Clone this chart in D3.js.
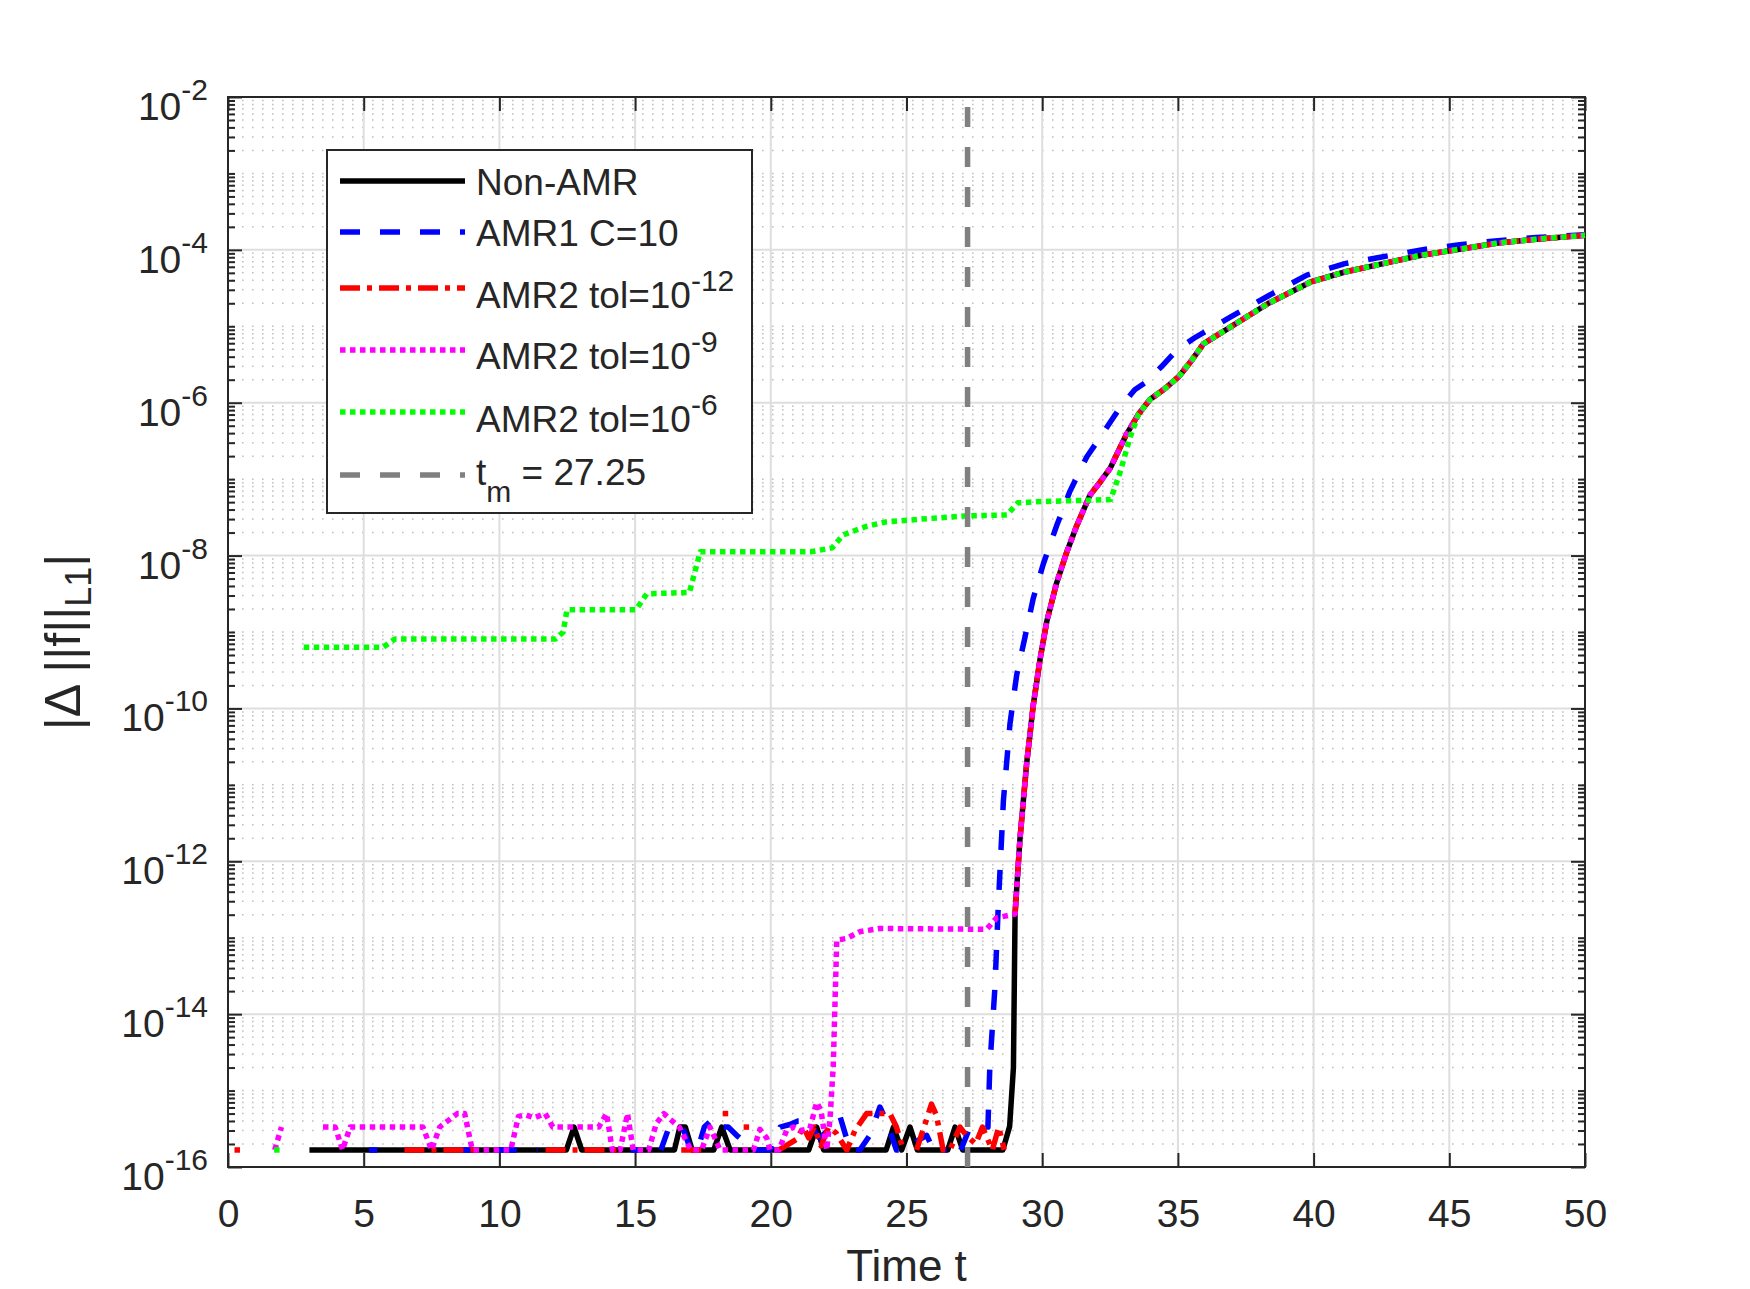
<!DOCTYPE html>
<html>
<head>
<meta charset="utf-8">
<script src="https://cdn.jsdelivr.net/npm/d3@7/dist/d3.min.js"></script>
<style>
  body { margin: 0; background: #fff; }
  svg { display: block; }
  text { font-family: "Liberation Sans", Arial, Helvetica, sans-serif; fill: #262626; }
</style>
</head>
<body>
<div id="chart"></div>
<script>
// ---- data (time t, |delta ||f||_L1|), null = exact zero (not drawn on log axis)
const xTickValues = [0, 5, 10, 15, 20, 25, 30, 35, 40, 45, 50];
const yTickExponents = [-16, -14, -12, -10, -8, -6, -4, -2];
const tMerge = 27.25;

// common part of Non-AMR / AMR2 curves once the error grows
const sharedTail = [
  [29.0, 2.04e-13], [29.18, 1.95e-12], [29.43, 1.95e-11], [29.67, 1.10e-10], [29.92, 4.37e-10],
  [30.17, 1.38e-9], [30.53, 4.37e-9], [30.9, 1.10e-8], [31.27, 2.45e-8], [31.76, 6.17e-8],
  [32.13, 9.12e-8], [32.5, 1.38e-7], [33.11, 3.89e-7], [33.55, 7.08e-7], [33.97, 1.10e-6],
  [34.54, 1.55e-6], [35.03, 2.19e-6], [35.52, 3.63e-6], [35.94, 5.89e-6], [36.93, 9.77e-6],
  [38.34, 2.00e-5], [39.89, 3.80e-5], [41.15, 5.13e-5], [42.56, 6.61e-5], [43.97, 8.51e-5],
  [45.38, 1.02e-4], [46.79, 1.23e-4], [48.2, 1.38e-4], [50, 1.55e-4]
];

const nonAmrHead = [
  [3.0, 1.67e-16], [12.47, 1.67e-16], [12.75, 3.33e-16], [13.03, 1.67e-16], [16.45, 1.67e-16],
  [16.65, 3.33e-16], [16.85, 3.33e-16], [17.1, 1.67e-16], [17.9, 1.67e-16], [18.19, 3.33e-16],
  [18.5, 1.67e-16], [21.4, 1.67e-16], [21.69, 3.33e-16], [21.95, 1.67e-16], [24.25, 1.67e-16],
  [24.52, 3.33e-16], [24.82, 1.67e-16], [25.13, 3.33e-16], [25.4, 1.67e-16], [26.52, 1.67e-16],
  [26.79, 3.33e-16], [27.07, 1.67e-16], [28.55, 1.67e-16], [28.8, 3.4e-16], [28.94, 2.0e-15]
];

const amr1 = [
  [5.2, 1.67e-16], [5.5, 1.67e-16], [5.75, null],
  [8.6, 1.67e-16], [9.1, 1.67e-16], [9.3, null],
  [9.9, 1.67e-16], [11.4, 1.67e-16], [11.6, null],
  [14.85, 1.67e-16], [15.15, 1.67e-16], [15.4, null],
  [15.95, 1.67e-16], [16.25, 3.33e-16], [16.75, 3.33e-16], [17.05, 1.67e-16], [17.3, 1.67e-16],
  [17.55, 3.33e-16], [17.88, 4.3e-16], [18.1, 3.33e-16], [18.43, 3.33e-16], [18.74, 2.6e-16],
  [19.05, 2.1e-16], [19.35, 1.67e-16], [19.97, 1.67e-16], [20.34, 3.33e-16], [20.7, 3.6e-16],
  [21.0, 4.0e-16], [21.3, 4.0e-16], [21.5, 3.33e-16], [21.8, 2.4e-16], [22.1, 3.0e-16],
  [22.55, 4.6e-16], [22.92, 1.67e-16], [23.28, 1.67e-16], [23.65, 2.6e-16], [24.02, 6.1e-16],
  [24.26, 4.0e-16], [24.63, 1.67e-16], [25.0, 1.67e-16], [25.4, 2.2e-16], [25.74, 2.6e-16],
  [26.0, 1.67e-16], [26.48, 1.67e-16], [26.7, null],
  [27.0, 1.67e-16], [27.34, 3.33e-16], [27.7, 3.33e-16], [28.0, 3.33e-16], [28.07, 2.04e-15],
  [28.26, 2.29e-14], [28.38, 2.51e-13], [28.57, 6.17e-12], [28.81, 6.17e-11], [29.06, 2.75e-10],
  [29.37, 8.71e-10], [29.67, 2.75e-9], [30.04, 7.76e-9], [30.53, 2.45e-8], [31.02, 6.92e-8],
  [31.64, 1.95e-7], [32.2, 3.80e-7], [32.87, 8.71e-7], [33.41, 1.48e-6], [33.83, 1.86e-6],
  [34.39, 2.95e-6], [34.96, 4.90e-6], [35.66, 7.24e-6], [36.93, 1.32e-5], [38.34, 2.51e-5],
  [39.75, 4.68e-5], [41.15, 6.61e-5], [42.56, 8.13e-5], [43.97, 1.0e-4], [45.38, 1.17e-4],
  [46.79, 1.32e-4], [48.2, 1.45e-4], [50, 1.58e-4]
];

const amr2Tol12Head = [
  [0.34, 1.67e-16], [0.5, null],
  [6.5, 1.67e-16], [9.2, 1.67e-16], [9.4, null],
  [11.7, 1.67e-16], [14.4, 1.67e-16], [14.6, null],
  [16.7, 1.67e-16], [17.5, 1.67e-16], [17.7, null],
  [18.33, 5.0e-16], [18.5, null],
  [19.1, 3.33e-16], [19.3, null],
  [20.3, 1.67e-16], [20.95, 2.3e-16], [21.2, 3.33e-16], [21.4, 2.4e-16], [21.6, 3.33e-16],
  [21.85, 1.9e-16], [22.13, 3.33e-16], [22.4, 2.8e-16], [22.8, 1.67e-16], [23.1, 3.0e-16],
  [23.53, 5.0e-16], [24.02, 5.0e-16], [24.39, 5.0e-16], [24.63, 3.33e-16], [24.88, 1.67e-16],
  [25.1, null],
  [25.37, 1.67e-16], [25.74, 4.2e-16], [25.92, 6.67e-16], [26.1, 4.8e-16], [26.35, 1.67e-16],
  [26.6, 1.67e-16], [26.97, 3.33e-16], [27.2, 2.6e-16], [27.55, 2.0e-16], [27.8, 3.33e-16],
  [28.16, 1.67e-16], [28.4, 3.33e-16], [28.6, 1.67e-16], [28.8, null]
];

const amr2Tol9Head = [
  [1.72, 1.67e-16], [1.97, 3.33e-16], [2.2, null],
  [3.5, 3.33e-16], [3.95, 3.33e-16], [4.22, 1.67e-16], [4.5, 3.33e-16], [7.18, 3.33e-16],
  [7.5, 1.67e-16], [7.8, 3.33e-16], [8.45, 5.0e-16], [8.72, 5.0e-16], [9.0, 1.67e-16],
  [10.42, 1.67e-16], [10.7, 4.6e-16], [10.98, 4.8e-16], [11.27, 4.4e-16], [11.69, 5.0e-16],
  [11.97, 3.33e-16], [13.66, 3.33e-16], [13.95, 5.0e-16], [14.16, 1.67e-16], [14.45, 1.67e-16],
  [14.72, 5.0e-16], [14.93, 1.67e-16], [15.5, 1.67e-16], [15.78, 3.7e-16], [16.06, 5.0e-16],
  [16.3, 4.2e-16], [16.63, 3.33e-16], [17.05, 1.67e-16], [17.45, 1.67e-16], [17.76, 3.33e-16],
  [18.13, 1.67e-16], [19.36, 1.67e-16], [19.6, 3.1e-16], [19.85, 2.4e-16], [19.97, 1.67e-16],
  [20.3, 1.67e-16], [20.58, 3.0e-16], [20.83, 3.33e-16], [21.1, 3.0e-16], [21.44, 3.2e-16],
  [21.69, 7.0e-16], [21.85, 5.5e-16], [22.06, 1.67e-16], [22.18, 4.2e-16], [22.3, 2.04e-15],
  [22.43, 9.3e-14], [22.8, 9.8e-14], [23.28, 1.2e-13], [24.02, 1.32e-13], [27.95, 1.29e-13],
  [28.32, 1.82e-13]
];

const amr2Tol6Head = [
  [1.8, 1.67e-16], [2.0, null],
  [2.79, 6.3e-10], [5.72, 6.3e-10], [6.15, 8.1e-10], [12.07, 8.1e-10], [12.35, 1.0e-9],
  [12.49, 1.95e-9], [15.03, 1.95e-9], [15.43, 3.16e-9], [17.0, 3.3e-9], [17.4, 1.12e-8],
  [21.47, 1.12e-8], [22.26, 1.26e-8], [22.66, 1.86e-8], [23.5, 2.4e-8], [24.23, 2.75e-8],
  [25.55, 3.0e-8], [27.13, 3.3e-8], [28.7, 3.4e-8], [29.1, 4.9e-8], [30.03, 5.1e-8],
  [32.52, 5.4e-8], [32.87, 1.23e-7], [33.24, 3.55e-7]
];

const seriesNames = ['Non-AMR', 'AMR1 C=10', 'AMR2 tol=10', 'AMR2 tol=10', 'AMR2 tol=10', 't'];
const seriesSup = [null, null, '-12', '-9', '-6', null];

// ---- layout
const W = 1750, H = 1289;
const M = { left: 228, right: 1585, top: 97, bottom: 1167 };
const LW = 5.5;
const FONT_TICK = 39, FONT_SUP = 30, FONT_LEG = 37, FONT_LAB = 44;

const svg = d3.select('#chart').append('svg')
  .attr('width', W).attr('height', H);

const x = d3.scaleLinear().domain([0, 50]).range([M.left, M.right]);
const y = d3.scaleLog().domain([1e-16, 1e-2]).range([M.bottom, M.top]);

const majorY = yTickExponents.map(e => Math.pow(10, e));
const minorY = [];
for (let e = -16; e < -2; e++) {
  for (let k = 1; k <= 9; k++) {
    const v = k * Math.pow(10, e);
    if (k === 1 && e % 2 === 0) continue;
    minorY.push(v);
  }
}

// grid
const grid = svg.append('g').attr('class', 'grid');
grid.selectAll('.minor')
  .data(minorY)
  .enter().append('line')
    .attr('x1', M.left).attr('x2', M.right)
    .attr('y1', d => y(d)).attr('y2', d => y(d))
    .style('stroke', '#c0c0c0')
    .style('stroke-width', 1.5)
    .style('stroke-dasharray', '1.6,8.4')
    .style('stroke-dashoffset', -14);
grid.selectAll('.majx')
  .data(xTickValues.slice(1, -1))
  .enter().append('line')
    .attr('x1', d => x(d)).attr('x2', d => x(d))
    .attr('y1', M.top).attr('y2', M.bottom)
    .style('stroke', '#dedede').style('stroke-width', 2);
grid.selectAll('.majy')
  .data(majorY.slice(1, -1))
  .enter().append('line')
    .attr('x1', M.left).attr('x2', M.right)
    .attr('y1', d => y(d)).attr('y2', d => y(d))
    .style('stroke', '#dedede').style('stroke-width', 2);

// axes (ticks inward on all four sides)
function styleAxis(g) {
  g.select('.domain').remove();
  g.selectAll('line').style('stroke', '#262626').style('stroke-width', 2);
}
svg.append('g')
  .attr('transform', `translate(0,${M.bottom})`)
  .call(d3.axisBottom(x).tickValues(xTickValues).tickSizeInner(-14).tickSizeOuter(0).tickPadding(32))
  .call(styleAxis)
  .call(g => g.selectAll('text')
    .style('font-size', FONT_TICK + 'px')
    .style('font-family', '"Liberation Sans", Arial, sans-serif')
    .style('fill', '#262626'));
svg.append('g')
  .attr('transform', `translate(0,${M.top})`)
  .call(d3.axisTop(x).tickValues(xTickValues).tickSizeInner(-14).tickSizeOuter(0).tickFormat(''))
  .call(styleAxis);
[[d3.axisLeft, M.left], [d3.axisRight, M.right]].forEach(([ax, pos]) => {
  svg.append('g')
    .attr('transform', `translate(${pos},0)`)
    .call(ax(y).tickValues(majorY).tickSizeInner(-14).tickSizeOuter(0).tickFormat(''))
    .call(styleAxis);
  svg.append('g')
    .attr('transform', `translate(${pos},0)`)
    .call(ax(y).tickValues(minorY).tickSizeInner(-7).tickSizeOuter(0).tickFormat(''))
    .call(styleAxis);
});
svg.append('rect')
  .attr('x', M.left).attr('y', M.top)
  .attr('width', M.right - M.left).attr('height', M.bottom - M.top)
  .style('fill', 'none').style('stroke', '#262626').style('stroke-width', 2);

// y tick labels 10^e
const yLab = svg.append('g').selectAll('text')
  .data(yTickExponents)
  .enter().append('text')
    .attr('x', M.left - 20)
    .attr('y', d => y(Math.pow(10, d)) + 23)
    .attr('text-anchor', 'end')
    .style('font-size', FONT_TICK + 'px');
yLab.append('tspan').text('10');
yLab.append('tspan').attr('dy', -20).style('font-size', FONT_SUP + 'px').text(d => d);

// axis labels
svg.append('text')
  .attr('x', (M.left + M.right) / 2).attr('y', 1281)
  .attr('text-anchor', 'middle')
  .style('font-size', FONT_LAB + 'px')
  .text('Time t');
const yl = svg.append('text')
  .attr('transform', `translate(80,${(M.top + M.bottom) / 2 + 10}) rotate(-90)`)
  .attr('text-anchor', 'middle')
  .style('font-size', '50px');
yl.append('tspan').text('|\u0394 ||f||');
yl.append('tspan').attr('dy', 11).style('font-size', '36px').text('L1');
yl.append('tspan').attr('dy', -11).text('|');

// ---- series
const styles = [
  { color: '#000000', dash: null },
  { color: '#0000ff', dash: '20,20' },
  { color: '#ff0000', dash: '20,7,5,7' },
  { color: '#ff00ff', dash: '5.5,4.5' },
  { color: '#00ff00', dash: '5.5,4.5' }
];
const seriesData = [
  nonAmrHead.concat(sharedTail),
  amr1,
  amr2Tol12Head.concat(sharedTail),
  amr2Tol9Head.concat(sharedTail),
  amr2Tol6Head.concat(sharedTail.filter(d => d[0] >= 33.5))
];

const line = d3.line()
  .defined(d => d[1] !== null)
  .x(d => x(d[0]))
  .y(d => y(d[1]));

const body = svg.append('g').attr('class', 'body');
seriesData.forEach((data, i) => {
  const st = styles[i];
  body.append('path')
    .datum(data)
    .attr('d', line)
    .style('fill', 'none')
    .style('stroke', st.color)
    .style('stroke-width', LW)
    .style('stroke-linejoin', 'round')
    .style('stroke-dasharray', st.dash);
  // single points surrounded by zeros show as a small square
  const lonely = data.filter((d, j) => d[1] !== null &&
    (j === 0 || data[j - 1][1] === null) &&
    (j === data.length - 1 || data[j + 1][1] === null));
  body.selectAll(null)
    .data(lonely)
    .enter().append('rect')
      .attr('x', d => x(d[0]) - LW / 2)
      .attr('y', d => y(d[1]) - LW / 2)
      .attr('width', LW).attr('height', LW)
      .style('fill', st.color);
});

// t_m marker
body.append('line')
  .attr('x1', x(tMerge)).attr('x2', x(tMerge))
  .attr('y1', M.bottom).attr('y2', M.top)
  .style('stroke', '#808080')
  .style('stroke-width', LW)
  .style('stroke-dasharray', '20,20');

// ---- legend
const legend = svg.append('g').attr('class', 'legend');
legend.append('rect')
  .attr('x', 327).attr('y', 150).attr('width', 425).attr('height', 363)
  .style('fill', '#fff').style('stroke', '#262626').style('stroke-width', 2);
const rowLine = [181, 232, 288, 350, 412, 475];
const rowText = [195, 246, 308, 369, 432, 485];
const legStyles = styles.concat([{ color: '#808080', dash: '20,20' }]);
seriesNames.forEach((name, i) => {
  legend.append('line')
    .attr('x1', 340).attr('x2', 465)
    .attr('y1', rowLine[i]).attr('y2', rowLine[i])
    .style('stroke', legStyles[i].color)
    .style('stroke-width', LW)
    .style('stroke-dasharray', legStyles[i].dash);
  const t = legend.append('text')
    .attr('x', 476).attr('y', rowText[i])
    .style('font-size', FONT_LEG + 'px');
  t.append('tspan').text(name);
  if (seriesSup[i]) {
    t.append('tspan').attr('dy', -17).style('font-size', FONT_SUP + 'px').text(seriesSup[i]);
  }
  if (i === 5) {
    t.append('tspan').attr('dy', 17).style('font-size', FONT_SUP + 'px').text('m');
    t.append('tspan').attr('dy', -17).text(' = ' + tMerge);
  }
});
</script>
</body>
</html>
